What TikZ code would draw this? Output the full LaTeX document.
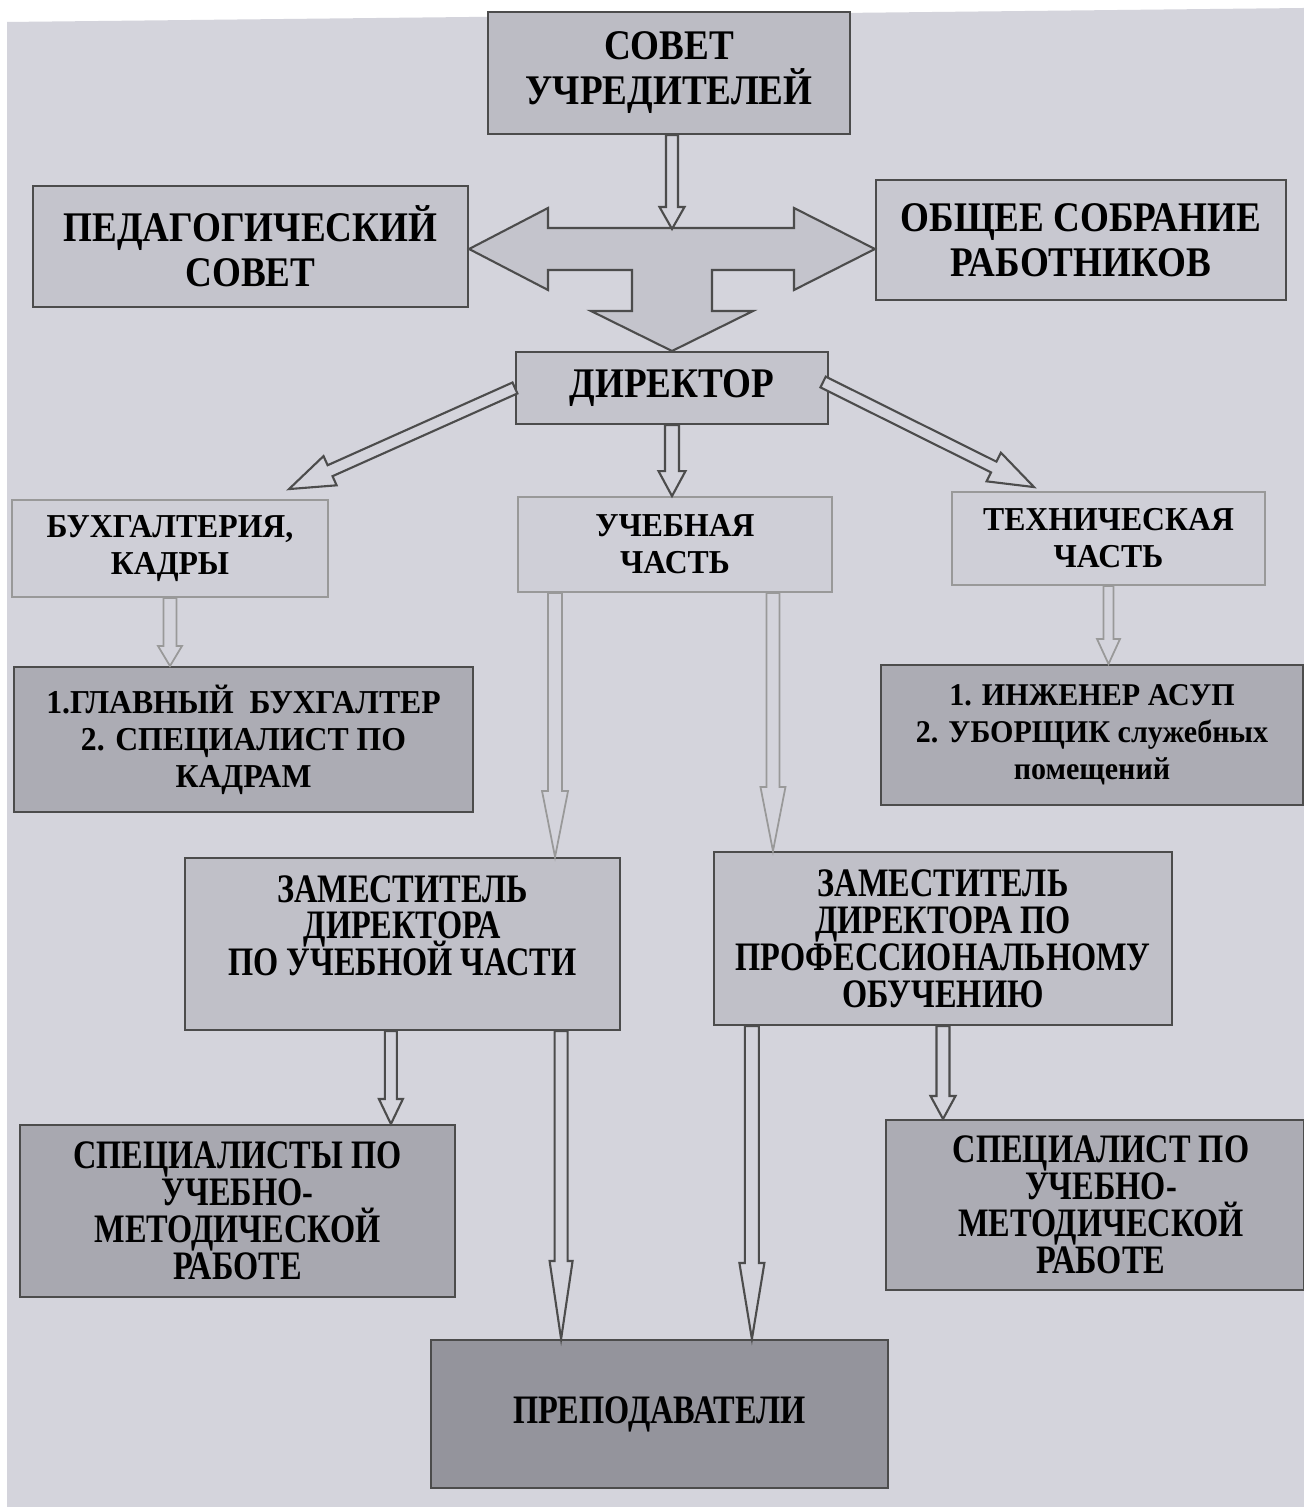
\documentclass[tikz,border=0pt]{standalone}
\usepackage{fontspec}
\setmainfont{Liberation Serif}
\newfontfamily\topfont{Liberation Serif}[FakeStretch=0.88]
\newfontfamily\midfont{Liberation Serif}[FakeStretch=0.95]
\newfontfamily\lowfont{Liberation Serif}[FakeStretch=0.8]
\usetikzlibrary{calc}

\definecolor{bgcol}{RGB}{212,212,220}
\definecolor{bigcol}{RGB}{196,196,204}
\definecolor{sovetcol}{RGB}{188,188,196}
\definecolor{pedcol}{RGB}{196,196,204}
\definecolor{obshcol}{RGB}{200,200,208}
\definecolor{partcol}{RGB}{207,207,215}
\definecolor{staffcol}{RGB}{172,172,180}
\definecolor{zamcol}{RGB}{192,192,200}
\definecolor{speccol}{RGB}{168,168,176}
\definecolor{prepcol}{RGB}{148,148,156}

% lines may sit closer than the accents allow
\newcommand{\tightls}{\setlength{\lineskiplimit}{-8pt}}

% block arrow: [style]{from}{to}{shaft half width}{head half width}{head length}
\newcommand{\blockarrow}[6][]{%
  \coordinate (neck) at ($(#3)!#6!(#2)$);
  \draw[#1] ($(#2)!#4!90:(#3)$) -- ($(neck)!#4!-90:(#2)$) -- ($(neck)!#5!-90:(#2)$) -- (#3)
    -- ($(neck)!#5!90:(#2)$) -- ($(neck)!#4!90:(#2)$) -- ($(#2)!#4!-90:(#3)$) -- cycle;
}

\tikzset{
  box/.style={draw=black!70, line width=0.55pt, inner sep=0pt, align=center},
  lightbox/.style={draw=black!40, line width=0.5pt, inner sep=0pt, align=center},
  topfnt/.style={font=\topfont\fontsize{12}{12.8}\selectfont\bfseries\tightls},
  midfnt/.style={font=\midfont\fontsize{9.5}{10.5}\selectfont\bfseries\tightls},
  lowfnt/.style={font=\lowfont\fontsize{11.5}{10.5}\selectfont\bfseries\tightls},
  darr/.style={draw=black!70, line width=0.6pt, fill=bgcol},
  larr/.style={draw=black!40, line width=0.5pt, fill=bgcol},
  bigarr/.style={draw=black!70, line width=0.6pt, fill=bigcol}
}

\begin{document}
\begin{tikzpicture}[x=0.01cm, y=-0.01cm]
\useasboundingbox (0,0) rectangle (1304,1507);

% Background
\fill[white] (0,0) rectangle (1304,1507);
\fill[bgcol] (7,22) -- (1304,8) -- (1304,1507) -- (7,1507) -- cycle;

% Top level
\node[box, topfnt, fill=sovetcol, minimum width=3.62cm, minimum height=1.22cm] (sovet) at (669,73) {СОВЕТ\\УЧРЕДИТЕЛЕЙ};
\node[box, topfnt, fill=pedcol, minimum width=4.35cm, minimum height=1.21cm] (ped) at (250.5,246.5) {ПЕДАГОГИЧЕСКИЙ\\СОВЕТ};
\node[box, topfnt, fill=obshcol, minimum width=4.10cm, minimum height=1.20cm] (obsh) at (1081,240) {ОБЩЕЕ СОБРАНИЕ\\РАБОТНИКОВ};
\node[box, topfnt, fill=pedcol, minimum width=3.12cm, minimum height=0.72cm] (dir) at (672,388) {ДИРЕКТОР};

% Parts
\node[lightbox, midfnt, fill=partcol, minimum width=3.16cm, minimum height=0.97cm] (buh) at (170,548.5) {БУХГАЛТЕРИЯ,\\КАДРЫ};
\node[lightbox, midfnt, fill=partcol, minimum width=3.14cm, minimum height=0.95cm] (ucheb) at (675,544.5) {УЧЕБНАЯ\\ЧАСТЬ};
\node[lightbox, midfnt, fill=partcol, minimum width=3.13cm, minimum height=0.93cm] (tech) at (1108.5,538.5) {ТЕХНИЧЕСКАЯ\\ЧАСТЬ};

% Staff
\node[box, midfnt, fill=staffcol, minimum width=4.59cm, minimum height=1.45cm] (glavbuh) at (243.5,739.5) {1.ГЛАВНЫЙ\ \ БУХГАЛТЕР\\2. СПЕЦИАЛИСТ ПО\\КАДРАМ};
\node[box, font=\midfont\fontsize{9}{10.5}\selectfont\bfseries\tightls, fill=staffcol, minimum width=4.22cm, minimum height=1.40cm] (inzh) at (1092,735) {1. ИНЖЕНЕР АСУП\\2. УБОРЩИК служебных\\помещений};

% Deputies
\node[box, lowfnt, fill=zamcol, minimum width=4.35cm, minimum height=1.72cm] (zamuch) at (402.5,944) {ЗАМЕСТИТЕЛЬ\\ДИРЕКТОРА\\ПО УЧЕБНОЙ ЧАСТИ\\\mbox{}};
\node[box, lowfnt, fill=zamcol, minimum width=4.58cm, minimum height=1.73cm] (zamprof) at (943,938.5) {ЗАМЕСТИТЕЛЬ\\ДИРЕКТОРА ПО\\ПРОФЕССИОНАЛЬНОМУ\\ОБУЧЕНИЮ};

% Bottom
\node[box, lowfnt, fill=speccol, minimum width=4.35cm, minimum height=1.72cm] (specl) at (237.5,1211) {СПЕЦИАЛИСТЫ ПО\\УЧЕБНО-\\МЕТОДИЧЕСКОЙ\\РАБОТЕ};
\node[box, lowfnt, fill=staffcol, minimum width=4.18cm, minimum height=1.70cm] (specr) at (1095,1205) {\hspace*{0.12cm}СПЕЦИАЛИСТ ПО\\\hspace*{0.12cm}УЧЕБНО-\\\hspace*{0.12cm}МЕТОДИЧЕСКОЙ\\\hspace*{0.12cm}РАБОТЕ};
\node[box, lowfnt, fill=prepcol, minimum width=4.57cm, minimum height=1.48cm] (prep) at (659.5,1414) {ПРЕПОДАВАТЕЛИ};

% Big arrow between councils and director
\coordinate (mid) at (672,249);
\draw[bigarr] (ped.east |- mid) -- (548,208) -- (548,228) -- (794,228) -- (794,208) -- (obsh.west |- mid)
  -- (794,290) -- (794,270) -- (712,270) -- (712,311) -- (753,311) -- (dir.north)
  -- (591,311) -- (632,311) -- (632,270) -- (548,270) -- (548,290) -- cycle;

% Arrows
\coordinate (bigtop) at (672,229);
\coordinate (s1) at (sovet.south -| bigtop);
\blockarrow[darr]{s1}{bigtop}{0.06cm}{0.125cm}{0.22cm}

\coordinate (b1) at ($(buh.north east)+(-40,-10)$);
\blockarrow[darr]{dir.west}{b1}{0.06cm}{0.16cm}{0.45cm}
\coordinate (d1) at ($(dir.east)+(-6,-6)$);
\coordinate (t1) at ($(tech.north west)+(83,-4)$);
\blockarrow[darr]{d1}{t1}{0.06cm}{0.16cm}{0.45cm}
\coordinate (d2) at (dir.south |- ucheb.north);
\blockarrow[darr]{dir.south}{d2}{0.07cm}{0.135cm}{0.25cm}

\coordinate (b2) at (buh.south |- glavbuh.north);
\blockarrow[larr]{buh.south}{b2}{0.065cm}{0.12cm}{0.2cm}
\coordinate (t2) at (tech.south |- inzh.north);
\blockarrow[larr]{tech.south}{t2}{0.05cm}{0.115cm}{0.25cm}

\coordinate (u1) at ($(ucheb.south west)+(38,0)$);
\coordinate (u2) at (u1 |- zamuch.north);
\blockarrow[larr]{u1}{u2}{0.07cm}{0.13cm}{0.66cm}
\coordinate (u3) at ($(ucheb.south east)+(-60,0)$);
\coordinate (u4) at (u3 |- zamprof.north);
\blockarrow[larr]{u3}{u4}{0.065cm}{0.125cm}{0.64cm}

\coordinate (z1) at ($(zamuch.south west)+(207,0)$);
\coordinate (z2) at (z1 |- specl.north);
\blockarrow[darr]{z1}{z2}{0.06cm}{0.12cm}{0.25cm}
\coordinate (z3) at ($(zamuch.south east)+(-60,0)$);
\coordinate (z4) at (z3 |- prep.north);
\blockarrow[darr]{z3}{z4}{0.065cm}{0.115cm}{0.78cm}
\coordinate (z5) at ($(zamprof.south west)+(39,0)$);
\coordinate (z6) at (z5 |- prep.north);
\blockarrow[darr]{z5}{z6}{0.07cm}{0.125cm}{0.76cm}
\coordinate (z7) at (zamprof.south |- specr.north);
\blockarrow[darr]{zamprof.south}{z7}{0.065cm}{0.125cm}{0.23cm}

\end{tikzpicture}
\end{document}
